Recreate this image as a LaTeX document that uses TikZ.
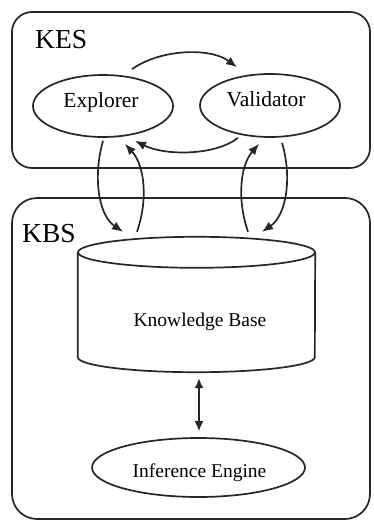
\documentclass[tikz,border=0pt]{standalone}
\usepackage{fontspec}
\setmainfont{Liberation Serif}
\usetikzlibrary{arrows.meta,calc,shapes.geometric}
\begin{document}
\begin{tikzpicture}[x=1pt,y=-1pt,
  ln/.style={line width=1.7pt, draw=black!85},
  arr/.style={ln, -{Latex[length=11pt,width=9pt]}},
  darr/.style={ln, {Latex[length=10pt,width=9pt]}-{Latex[length=10pt,width=9pt]}},
  oval/.style={ellipse, ln, inner sep=0pt},
  sysbox/.style={rectangle, ln, inner sep=0pt},
  big/.style={font=\fontsize{27.5}{31}\selectfont},
  mid/.style={font=\fontsize{21.5}{25}\selectfont},
  sml/.style={font=\fontsize{19.5}{23}\selectfont}]
\useasboundingbox (0,0) rectangle (373,522);
\fill[white] (0,0) rectangle (373,522);
% system boxes
\node[sysbox, rounded corners=20pt, minimum width=358pt, minimum height=156pt] (kes) at (191,90) {};
\node[sysbox, rounded corners=25pt, minimum width=358pt, minimum height=321pt] (kbs) at (191,358.5) {};
\node[big, anchor=base west, inner sep=0pt] (keslbl) at (35,48) {KES};
\node[big, anchor=base west, inner sep=0pt] (kbslbl) at (22,242) {KBS};
% ellipses
\node[oval, minimum width=140pt, minimum height=62pt] (exp) at (103,106) {};
\node[oval, minimum width=140pt, minimum height=63pt] (val) at (270,105.5) {};
\node[oval, minimum width=213pt, minimum height=59pt] (ie) at (198.5,467.5) {};
\node[mid, anchor=base, inner sep=0pt] (expt) at (101,107) {Explorer};
\node[mid, anchor=base, inner sep=0pt] (valt) at (266,106) {Validator};
\node[sml, anchor=base, inner sep=0pt] (iet) at (199.5,477) {Inference Engine};
% knowledge base cylinder
\node[inner sep=0pt, minimum width=237pt, minimum height=135pt] (kb) at (196.5,304.5) {};
\draw[ln] ($(kb.north west)+(0,15.5)$) -- ($(kb.south west)+(0,-15)$)
  arc[start angle=180, end angle=360, x radius=118.5pt, y radius=15pt]
  -- ($(kb.north east)+(0,15.5)$);
\draw[ln] ($(kb.north)+(0,15.5)$) ellipse [x radius=118.5pt, y radius=15.5pt];
\node[sml, anchor=base, inner sep=0pt] (kbt) at (200,326) {Knowledge Base};
% connectors
\draw[arr] ($(exp.north)+(29,-5)$) .. controls +(28,-20) and +(-27,-20) .. ($(val.north)+(-33,-6)$);
\draw[arr] ($(val.south)+(-32,0)$) .. controls +(-23,18) and +(30,15) .. ($(exp.south)+(32,3)$);
\draw[arr] ($(exp.south)+(0,3)$) .. controls +(-10,35) and +(-25,-17) .. ($(kb.north)+(-73.5,-5)$);
\draw[arr] ($(kb.north)+(-59.5,-5)$) .. controls +(11,-32) and +(20,22) .. ($(exp.south)+(22,6)$);
\draw[arr] ($(kb.north)+(51.5,-5)$) .. controls +(-11,-32) and +(-19,22) .. ($(val.south)+(-11,6)$);
\draw[arr] ($(val.south)+(12,5)$) .. controls +(10,33) and +(25,-17) .. ($(kb.north)+(65.5,-5)$);
\draw[darr] ($(kb.south)+(2.5,6)$) -- ($(ie.north)+(0.5,-6)$);
\end{tikzpicture}
\end{document}
